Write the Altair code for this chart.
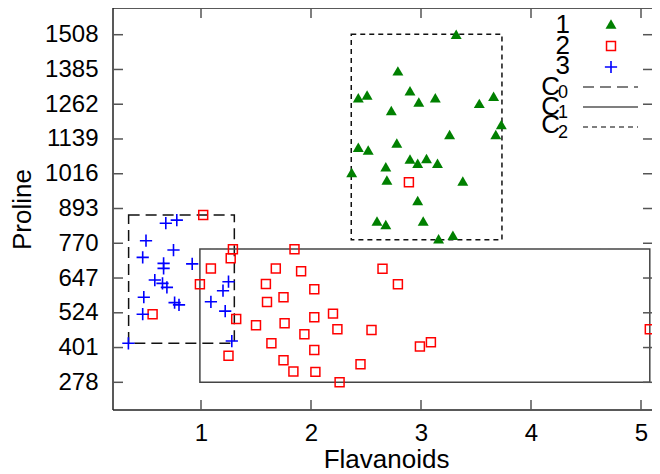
import altair as alt
import pandas as pd

# ---------------- data ----------------
flav1 = [3.32, 2.79, 2.43, 2.51, 2.90, 2.98, 3.13, 2.73, 3.53, 3.66, 3.73, 3.68, 3.26, 2.43, 2.52,
         2.78, 2.90, 2.97, 3.05, 3.15, 2.68, 2.37, 2.69, 3.38, 2.97, 2.60, 2.68, 3.02, 3.16, 3.29]
pro1 = [1510, 1380, 1285, 1295, 1310, 1270, 1285, 1240, 1265, 1290, 1190, 1155, 1155, 1110, 1100,
        1125, 1068, 1053, 1070, 1053, 1041, 1020, 994, 990, 921, 849, 836, 849, 786, 798]

flav2 = [1.09, 1.29, 1.27, 1.68, 1.85, 1.91, 2.65, 0.99, 1.59, 2.03, 2.79, 1.75, 1.60, 0.56, 1.32,
         1.50, 1.76, 2.03, 2.20, 2.24, 1.94, 2.55, 1.64, 2.03, 2.99, 3.09, 1.25, 1.75, 1.84, 2.04,
         2.45, 2.26, 5.08, 2.89, 1.02]
pro2 = [681, 749, 717, 681, 749, 671, 680, 625, 626, 607, 625, 579, 562, 519, 502,
        480, 487, 508, 521, 466, 448, 463, 416, 392, 405, 420, 372, 356, 316, 315,
        342, 278, 466, 986, 870]

flav3 = [0.68, 0.78, 0.50, 0.75, 0.47, 0.66, 0.66, 0.92, 0.58, 0.65, 0.69, 0.48, 0.76, 0.80, 0.47,
         0.34, 1.25, 1.20, 1.09, 1.22, 1.28]
pro3 = [841, 852, 779, 746, 720, 699, 681, 697, 640, 628, 614, 579, 560, 552, 519,
        416, 634, 602, 563, 530, 424]

class_labels = ["1", "2", "3"]
box_names = ["0", "1", "2"]
box_x1 = [0.342, 0.99, 2.366]
box_x2 = [1.303, 5.08, 3.736]
box_y1 = [416, 278, 782]
box_y2 = [870, 750, 1510]

x_ticks = [1, 2, 3, 4, 5]
y_ticks = [278, 401, 524, 647, 770, 893, 1016, 1139, 1262, 1385, 1508]

# ---------------- layout / style ----------------
W, H = 539, 402
FONT = "Liberation Sans"
FS = 24
TFS = 26
xs = alt.Scale(domain=[0.2, 0.2 + W / 110.0], nice=False, zero=False)
ys = alt.Scale(domain=[180.0, 1602.5], nice=False, zero=False)

ax_x = alt.Axis(values=x_ticks, title="Flavanoids", grid=False, ticks=False, tickSize=0, domain=False,
                labelFont=FONT, labelFontSize=FS, labelColor="black", labelPadding=30,
                labelBaseline="alphabetic", titleFont=FONT, titleFontSize=TFS, titleFontWeight="normal",
                titleColor="black", titleX=273, titleY=57, titleBaseline="alphabetic")
ax_y = alt.Axis(values=y_ticks, format="d", title="Proline", grid=False, ticks=False, tickSize=0,
                domain=False, labelFont=FONT, labelFontSize=FS, labelColor="black", labelPadding=15,
                titleFont=FONT, titleFontSize=TFS, titleFontWeight="normal", titleColor="black",
                titleX=-83, titleY=H / 2, titleBaseline="alphabetic", titleAngle=-90)

X = lambda f: alt.X(f, type="quantitative", scale=xs, axis=ax_x)
Y = lambda f: alt.Y(f, type="quantitative", scale=ys, axis=ax_y)

one = pd.DataFrame({"k": [0]})
layers = []

# frame (left, top, bottom; the right edge falls outside the picture)
frame = dict(color="#222222", strokeWidth=1.5)
layers.append(alt.Chart(one).mark_rule(**frame).encode(x=alt.value(0), x2=alt.value(W), y=alt.value(0)))
layers.append(alt.Chart(one).mark_rule(**frame).encode(x=alt.value(0), x2=alt.value(W), y=alt.value(H)))
layers.append(alt.Chart(one).mark_rule(**frame).encode(x=alt.value(0), y=alt.value(0), y2=alt.value(H)))

boxes = pd.DataFrame({"name": box_names, "x1": box_x1, "x2": box_x2, "y1": box_y1, "y2": box_y2})
dashes = {"0": [11, 6], "1": [1, 0], "2": [5, 4]}
box_colors = {"0": "#111111", "1": "#444444", "2": "#111111"}
for n in box_names:
    layers.append(
        alt.Chart(boxes[boxes["name"] == n]).mark_rect(
            fillOpacity=0, stroke=box_colors[n], strokeWidth=1.5, strokeDash=dashes[n]
        ).encode(x=X("x1"), x2="x2", y=Y("y1"), y2="y2")
    )

# tick marks (inward, on all four sides)
xt = pd.DataFrame({"v": x_ticks})
yt = pd.DataFrame({"v": y_ticks})
tick_style = dict(color="#555555", strokeWidth=1.5)
layers.append(alt.Chart(xt).mark_rule(**tick_style).encode(x=X("v"), y=alt.value(H), y2=alt.value(H - 10)))
layers.append(alt.Chart(xt).mark_rule(**tick_style).encode(x=X("v"), y=alt.value(0), y2=alt.value(10)))
layers.append(alt.Chart(yt).mark_rule(**tick_style).encode(y=Y("v"), x=alt.value(0), x2=alt.value(10)))
layers.append(alt.Chart(yt).mark_rule(**tick_style).encode(y=Y("v"), x=alt.value(W - 9), x2=alt.value(W)))

PLUS = "M-1,0L1,0M0,-1L0,1"
d1 = pd.DataFrame({"f": flav1, "p": pro1})
d2 = pd.DataFrame({"f": flav2, "p": pro2})
d3 = pd.DataFrame({"f": flav3, "p": pro3})
sym1 = dict(shape="triangle-up", filled=True, color="#008000", size=120, opacity=1)
sym2 = dict(shape="square", filled=False, color="#ff0000", size=80, strokeWidth=1.5, opacity=1)
sym3 = dict(shape=PLUS, filled=False, color="#0000ff", size=150, strokeWidth=1.6, opacity=1)
layers.append(alt.Chart(d2).mark_point(**sym2).encode(x=X("f"), y=Y("p")))
layers.append(alt.Chart(d3).mark_point(**sym3).encode(x=X("f"), y=Y("p")))
layers.append(alt.Chart(d1).mark_point(**sym1).encode(x=X("f"), y=Y("p")))

# ---------------- custom legend ----------------
lab_y = [25, 46, 66]
sym_y = [16, 38, 59]
syms = [sym1, sym2, sym3]
for lab, ly, sy, s in zip(class_labels, lab_y, sym_y, syms):
    layers.append(alt.Chart(one).mark_text(align="right", baseline="alphabetic", font=FONT, fontSize=TFS,
                                           color="black").encode(x=alt.value(457), y=alt.value(ly),
                                                                 text=alt.value(lab)))
    layers.append(alt.Chart(one).mark_point(**s).encode(x=alt.value(498), y=alt.value(sy)))

c_y = [87, 107, 125]
sub_y = [90, 110, 130]
line_y = [79, 99, 119]
for n, cy, sy, lny in zip(box_names, c_y, sub_y, line_y):
    layers.append(alt.Chart(one).mark_text(align="right", baseline="alphabetic", font=FONT, fontSize=TFS,
                                           color="black").encode(x=alt.value(447), y=alt.value(cy),
                                                                 text=alt.value("C")))
    layers.append(alt.Chart(one).mark_text(align="left", baseline="alphabetic", font=FONT, fontSize=18,
                                           color="black").encode(x=alt.value(445), y=alt.value(sy),
                                                                 text=alt.value(n)))
    layers.append(alt.Chart(one).mark_rule(color="black", strokeWidth=1.2, strokeDash=dashes[n]).encode(
        x=alt.value(470), x2=alt.value(525), y=alt.value(lny)))

chart = alt.layer(*layers).properties(
    width=W, height=H,
    autosize=alt.AutoSizeParams(type="none"),
    padding={"left": 105, "top": 0, "right": 0, "bottom": 64},
).configure_view(strokeWidth=0)

chart.save("out.html", embed_options={"renderer": "svg", "actions": False})
